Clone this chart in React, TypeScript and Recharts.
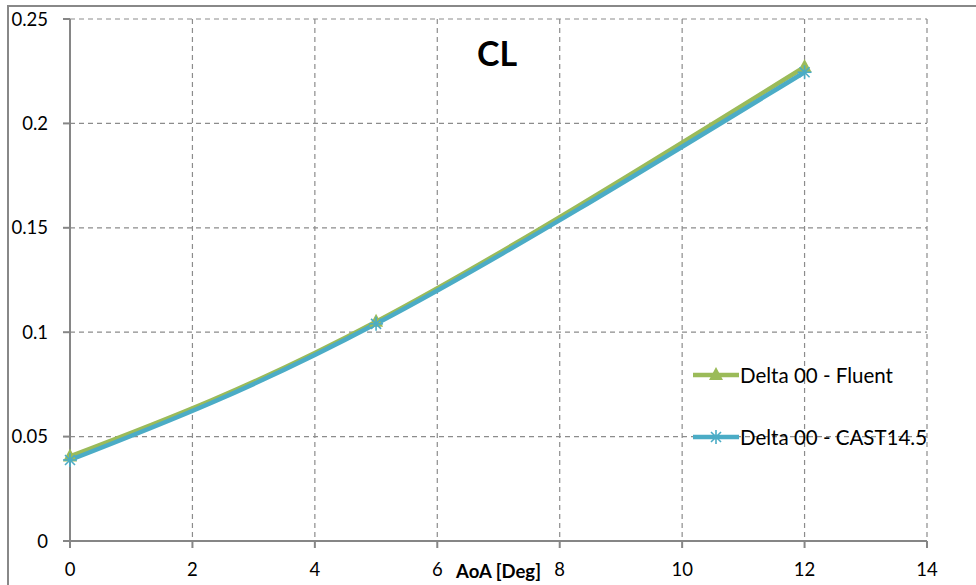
import { LineChart, Line, CartesianGrid, XAxis, YAxis, Legend } from "recharts";

const aoa = [0, 5, 12];
const fluentCL = [0.0405, 0.105, 0.227];
const castCL = [0.0388, 0.104, 0.2245];
const xTicks = [0, 2, 4, 6, 8, 10, 12, 14];
const yTicks = [0, 0.05, 0.1, 0.15, 0.2, 0.25];

const data = aoa.map((a, i) => ({ aoa: a, fluent: fluentCL[i], cast: castCL[i] }));

const GREEN = "#9BBB59";
const BLUE = "#4BACC6";
const FONT = "Lato, 'Open Sans', sans-serif";

const Triangle = ({ cx, cy, color }: any) => (
  <path d={`M${cx},${cy - 8} L${cx + 7},${cy + 5} L${cx - 7},${cy + 5} Z`} fill={color} />
);

const Star = ({ cx, cy, color }: any) => (
  <g stroke={color} strokeWidth={1.6}>
    <line x1={cx - 7} y1={cy} x2={cx + 7} y2={cy} />
    <line x1={cx} y1={cy - 7} x2={cx} y2={cy + 7} />
    <line x1={cx - 5} y1={cy - 5} x2={cx + 5} y2={cy + 5} />
    <line x1={cx - 5} y1={cy + 5} x2={cx + 5} y2={cy - 5} />
  </g>
);

const renderTri = (p: any) => <Triangle key={`t${p.index}`} cx={p.cx} cy={p.cy} color={GREEN} />;
const renderStar = (p: any) => <Star key={`s${p.index}`} cx={p.cx} cy={p.cy} color={BLUE} />;

const legendItems = [
  { name: "Delta 00 - Fluent", color: GREEN, marker: "tri" },
  { name: "Delta 00 - CAST14.5", color: BLUE, marker: "star" },
];

const LegendBox = () => (
  <div style={{ fontFamily: FONT, fontSize: 20.5, color: "#000" }}>
    {legendItems.map((it, i) => (
      <div key={it.name} style={{ display: "flex", alignItems: "center", height: 24, marginBottom: i === 0 ? 38 : 0 }}>
        <svg width={48} height={24}>
          <line x1={1} y1={12} x2={47} y2={12} stroke={it.color} strokeWidth={4.5} />
          {it.marker === "tri" ? <Triangle cx={24} cy={12} color={it.color} /> : <Star cx={24} cy={12} color={it.color} />}
        </svg>
        <span style={{ whiteSpace: "nowrap" }}>{it.name}</span>
      </div>
    ))}
  </div>
);

export default function App() {
  return (
    <div style={{ position: "absolute", left: 0, top: 0, width: 976, height: 585, background: "#fff" }}>
      <div
        style={{
          position: "absolute",
          left: 7,
          top: 5,
          width: 969,
          height: 580,
          borderLeft: "2px solid #888",
          borderTop: "2px solid #888",
          boxSizing: "border-box",
        }}
      />
      <LineChart
        width={976}
        height={585}
        data={data}
        margin={{ top: 19, right: 49, bottom: 0, left: 10 }}
        style={{ fontFamily: FONT }}
      >
        <CartesianGrid stroke="#8c8c8c" strokeDasharray="5 4" strokeWidth={1.2} />
        <XAxis
          dataKey="aoa"
          type="number"
          domain={[0, 14]}
          ticks={xTicks}
          height={44}
          stroke="#868686"
          strokeWidth={2}
          tickSize={7}
          tickMargin={15}
          tick={{ fill: "#000", fontSize: 18.5 }}
          label={{ value: "AoA [Deg]", position: "insideBottom", offset: 7, fill: "#000", fontSize: 18.5, fontWeight: "bold" }}
        />
        <YAxis
          type="number"
          domain={[0, 0.25]}
          ticks={yTicks}
          width={60}
          stroke="#868686"
          strokeWidth={2}
          tickSize={7}
          tickMargin={15}
          tick={{ fill: "#000", fontSize: 18.5 }}
        />
        <Legend
          layout="vertical"
          align="center"
          verticalAlign="middle"
          content={() => <LegendBox />}
          wrapperStyle={{ left: 692, top: 363, width: 280 }}
        />
        <Line
          type="natural"
          dataKey="fluent"
          name="Delta 00 - Fluent"
          stroke={GREEN}
          strokeWidth={4.5}
          dot={renderTri}
          activeDot={false}
          isAnimationActive={false}
        />
        <Line
          type="natural"
          dataKey="cast"
          name="Delta 00 - CAST14.5"
          stroke={BLUE}
          strokeWidth={4.5}
          dot={renderStar}
          activeDot={false}
          isAnimationActive={false}
        />
      </LineChart>
      <div
        style={{
          position: "absolute",
          left: 447,
          top: 32,
          width: 100,
          textAlign: "center",
          fontFamily: FONT,
          fontWeight: "bold",
          fontSize: 34,
          color: "#000",
        }}
      >
        CL
      </div>
    </div>
  );
}
